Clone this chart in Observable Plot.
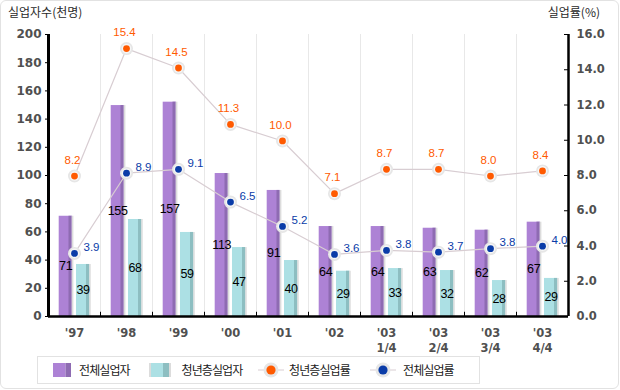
<!DOCTYPE html>
<html>
<head>
<meta charset="utf-8">
<script src="https://cdn.jsdelivr.net/npm/d3@7"></script>
<script src="https://cdn.jsdelivr.net/npm/@observablehq/plot@0.6"></script>
<style>
  html, body { margin: 0; padding: 0; background: #fff; }
  #wrap { position: relative; width: 620px; height: 390px; overflow: hidden; background: #fff; font-family: "Noto Sans CJK KR", sans-serif; }
  #frame { position: absolute; left: 0; top: 0; width: 617px; height: 387px; border: 1px solid #e2e2e2; border-radius: 6px; }
  #chart { position: absolute; left: 0; top: 0; }
  .title { position: absolute; top: 4px; font-size: 12px; line-height: 16px; color: #2a2a2a; white-space: nowrap; }
  #legend { position: absolute; left: 37px; top: 356px; width: 441px; height: 26px; border: 1px solid #e2e2e2; background: #fff; }
  .lg { position: absolute; top: 370px; transform: translateY(-50%); white-space: nowrap; }
  .lgt { font-size: 12px; color: #1a1a1a; letter-spacing: -0.9px; line-height: 14px; }
  .lg svg { display: block; }
  g[aria-label="y-axis tick label"], g[aria-label="x-axis tick label"] { fill: #505050; font-weight: bold; font-family: "DejaVu Sans", sans-serif; }
  g[aria-description="lefttick"] g[aria-label="y-axis tick label"] { letter-spacing: 0.6px; }
  g[aria-description="barlab"] { font-family: "Liberation Sans Narrow", "Liberation Sans", sans-serif; letter-spacing: -0.3px; }
  g[aria-description="ratelab"] { font-family: "Liberation Sans", sans-serif; }
</style>
</head>
<body>
<div id="wrap">
  <div id="frame"></div>
  <div class="title" style="left:8px;">실업자수(천명)</div>
  <div class="title" style="right:20px;">실업률(%)</div>
  <div id="chart"></div>
  <div id="legend"></div>
</div>
<script>
// ---- data ----
const categories = ["'97", "'98", "'99", "'00", "'01", "'02", "'03 1/4", "'03 2/4", "'03 3/4", "'03 4/4"];
const totalUnemployed = [71.1, 149.6, 152.0, 101.4, 89.4, 63.8, 63.8, 62.6, 61.2, 66.9];
const totalUnemployedLabels = ["71", "155", "157", "113", "91", "64", "64", "63", "62", "67"];
const youthUnemployed = [36.9, 68.8, 59.6, 48.9, 39.7, 32.1, 34.0, 32.6, 25.5, 27.0];
const youthUnemployedLabels = ["39", "68", "59", "47", "40", "29", "33", "32", "28", "29"];
const youthRate = [7.97, 15.2, 14.1, 10.9, 9.96, 6.97, 8.35, 8.35, 7.97, 8.26];
const youthRateLabels = ["8.2", "15.4", "14.5", "11.3", "10.0", "7.1", "8.7", "8.7", "8.0", "8.4"];
const totalRate = [3.58, 8.13, 8.35, 6.49, 5.11, 3.52, 3.75, 3.65, 3.85, 3.99];
const totalRateLabels = ["3.9", "8.9", "9.1", "6.5", "5.2", "3.6", "3.8", "3.7", "3.8", "4.0"];
const leftTicks = [0, 20, 40, 60, 80, 100, 120, 140, 160, 180, 200];
const rightTicks = [0, 2, 4, 6, 8, 10, 12, 14, 16];
const seriesNames = ["전체실업자", "청년층실업자", "청년층실업률", "전체실업률"];

// ---- colours ----
const C = {
  purple: "#ad82d5", purpleDark: "#8e6bb2",
  cyan: "#ace0e4", cyanDark: "#8dbec1",
  shadow: "#dcdcdc",
  orange: "#ff5a00", blue: "#0a3ca8",
  line: "#d8cdd2", halo: "#e6e6e6", grid: "#e8e8e8"
};

const k = 200 / 16; // right axis (rate) mapped onto left axis domain
const rows = categories.map((c, i) => ({
  c,
  total: totalUnemployed[i], totalLabel: totalUnemployedLabels[i],
  youth: youthUnemployed[i], youthLabel: youthUnemployedLabels[i],
  yr: youthRate[i] * k, yrLabel: youthRateLabels[i],
  tr: totalRate[i] * k, trLabel: totalRateLabels[i]
}));
const inner = categories.slice(0, -1);
const last = categories[categories.length - 1];

const chart = Plot.plot({
  width: 620, height: 350,
  marginTop: 34, marginBottom: 34, marginLeft: 48, marginRight: 52,
  style: { background: "transparent", overflow: "visible", fontFamily: "Liberation Sans, sans-serif" },
  x: { domain: categories, padding: 0 },
  y: { domain: [0, 200] },
  marks: [
    // vertical gridlines between categories
    Plot.ruleX(inner, { dx: 26, stroke: C.grid }),
    // total unemployed bars (light, dark edge, shadow)
    Plot.barY(rows, { x: "c", y: "total", fill: C.purple, insetLeft: 10.7, insetRight: 28.3 }),
    Plot.barY(rows, { x: "c", y: "total", fill: C.purpleDark, insetLeft: 20.5, insetRight: 28.3 }),
    Plot.barY(rows, { x: "c", y: "total", fill: C.shadow, insetLeft: 23.7, insetRight: 26.6 }),
    // youth unemployed bars
    Plot.barY(rows, { x: "c", y: "youth", fill: C.cyan, insetLeft: 28, insetRight: 10.7 }),
    Plot.barY(rows, { x: "c", y: "youth", fill: C.cyanDark, insetLeft: 38, insetRight: 10.7 }),
    Plot.barY(rows, { x: "c", y: "youth", fill: C.shadow, insetLeft: 41.3, insetRight: 9.3 }),
    // bar value labels
    Plot.text(rows, { x: "c", y: d => d.total / 2, text: "totalLabel", dx: -8.8, fontSize: 12.5, fill: "#000", ariaDescription: "barlab" }),
    Plot.text(rows, { x: "c", y: d => d.youth / 2, text: "youthLabel", dx: 8.6, fontSize: 12.5, fill: "#000", ariaDescription: "barlab" }),
    // axes lines and ticks
    Plot.ruleX(inner, { dx: 26, y1: () => 0, y2: () => 3, stroke: "#000" }),
    Plot.ruleY([0], { stroke: "#000", strokeWidth: 2.5 }),
    Plot.ruleX([categories[0]], { dx: -26, stroke: "#000", strokeWidth: 3 }),
    Plot.ruleX([last], { dx: 26, stroke: "#000", strokeWidth: 2.5 }),
    Plot.axisY(leftTicks, { anchor: "left", tickSize: 3, tickPadding: 4, label: null, fontSize: 12, color: "#000", ariaDescription: "lefttick" }),
    Plot.axisY(rightTicks.map(v => v * k), { anchor: "right", tickSize: 0, tickPadding: 8, label: null, fontSize: 11.5, color: "#000", tickFormat: d => (d / k).toFixed(1) }),
    Plot.tickY(rightTicks.map(v => v * k), { x: () => last, insetLeft: 48, stroke: "#000" }),
    Plot.axisX({ tickSize: 0, tickPadding: 10, label: null, fontSize: 11.5, color: "#000", lineHeight: 1.3, tickFormat: d => d.replace(" ", "\n") }),
    // rate lines
    Plot.line(rows, { x: "c", y: "yr", stroke: C.line, strokeWidth: 1.2 }),
    Plot.line(rows, { x: "c", y: "tr", stroke: C.line, strokeWidth: 1.2 }),
    Plot.dot(rows, { x: "c", y: "yr", r: 6.5, fill: C.halo }),
    Plot.dot(rows, { x: "c", y: "yr", r: 4.8, fill: "#f6f6f6" }),
    Plot.dot(rows, { x: "c", y: "yr", r: 3.4, fill: C.orange }),
    Plot.dot(rows, { x: "c", y: "tr", r: 6.5, fill: C.halo }),
    Plot.dot(rows, { x: "c", y: "tr", r: 4.8, fill: "#f6f6f6" }),
    Plot.dot(rows, { x: "c", y: "tr", r: 3.4, fill: C.blue }),
    // rate labels
    Plot.text(rows, { x: "c", y: "yr", text: "yrLabel", dx: -2, dy: -16, fontSize: 11.5, fill: C.orange, ariaDescription: "ratelab" }),
    Plot.text(rows, { x: "c", y: "tr", text: "trLabel", dx: 9, dy: -6, textAnchor: "start", fontSize: 11.5, fill: C.blue, ariaDescription: "ratelab" })
  ]
});
document.getElementById("chart").appendChild(chart);

// ---- legend (HTML below the plot area) ----
const wrap = document.getElementById("wrap");
function addItem(left, html, cls) {
  const el = document.createElement("div");
  el.className = "lg " + (cls || "");
  el.style.left = left + "px";
  el.innerHTML = html;
  wrap.appendChild(el);
}
addItem(52.5, `<svg width="18" height="14"><rect x="0" y="0" width="12.5" height="14" fill="${C.purple}"/><rect x="12.5" y="0" width="5.5" height="14" fill="${C.purpleDark}"/></svg>`);
addItem(79, seriesNames[0], "lgt");
addItem(148.5, `<svg width="22" height="14"><rect x="0" y="0" width="22" height="14" fill="${C.shadow}"/><rect x="2" y="0" width="12" height="14" fill="${C.cyan}"/><rect x="14" y="0" width="6" height="14" fill="${C.cyanDark}"/></svg>`);
addItem(181.5, seriesNames[1], "lgt");
addItem(258, `<svg width="26" height="18"><line x1="0" x2="26" y1="9" y2="9" stroke="${C.line}"/><circle cx="13" cy="9" r="7.5" fill="${C.halo}"/><circle cx="13" cy="9" r="4.6" fill="${C.orange}"/></svg>`);
addItem(289, seriesNames[2], "lgt");
addItem(369.5, `<svg width="26" height="18"><line x1="0" x2="26" y1="9" y2="9" stroke="${C.line}"/><circle cx="13" cy="9" r="7.5" fill="${C.halo}"/><circle cx="13" cy="9" r="4.6" fill="${C.blue}"/></svg>`);
addItem(403, seriesNames[3], "lgt");
</script>
</body>
</html>
